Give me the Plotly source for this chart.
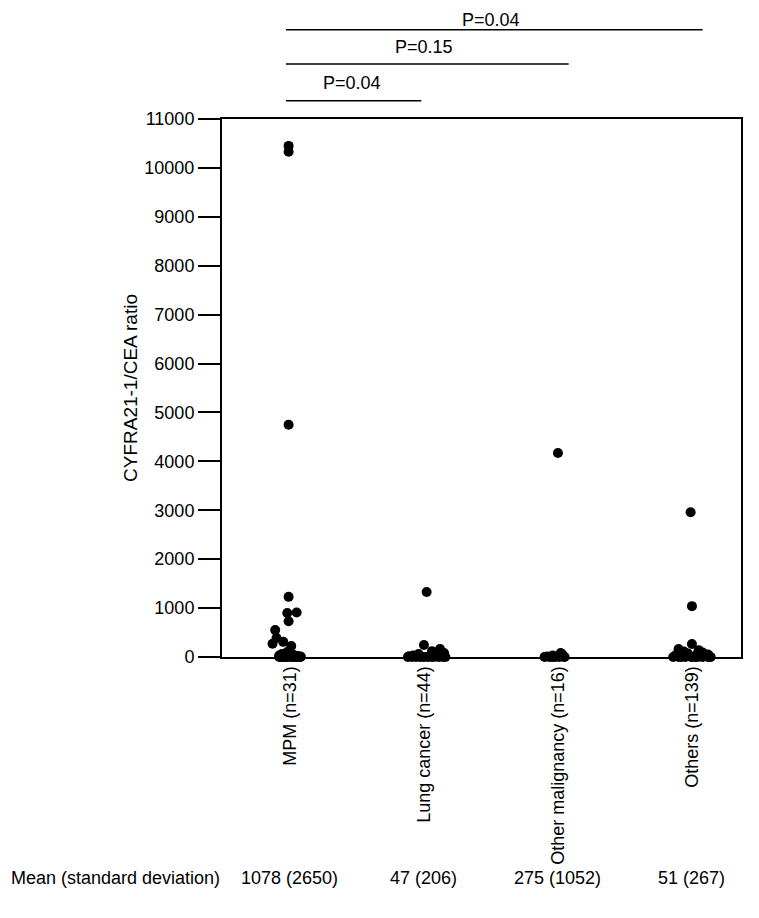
import plotly.graph_objects as go

# groups and summary text
groups = ["MPM (n=31)", "Lung cancer (n=44)", "Other malignancy (n=16)", "Others (n=139)"]
means = ["1078 (2650)", "47 (206)", "275 (1052)", "51 (267)"]

# CYFRA21-1/CEA ratio per patient, with the horizontal jitter
mpm_y = [10450, 10330, 4750, 1230, 900, 910, 730, 550, 390, 310, 270, 225, 100,
         60, 40, 30, 20, 15, 10, 5, 0, 0, 0, 0, 0, 0, 0, 0, 0, 0, 0]
mpm_dx = [-0.01, -0.01, -0.01, -0.01, -0.02, 0.05, -0.01, -0.11, -0.10, -0.05, -0.13, 0.01, -0.02,
          -0.06, 0.03, -0.08, 0.06, -0.03, 0.08, 0.00, -0.02, 0.07, -0.05, 0.04, -0.08, 0.02, 0.08, -0.03, 0.05, -0.06, 0.01]

lung_y = [1330, 245, 165, 120, 80, 60, 40, 30, 20, 15, 10, 5, 5, 0, 0, 0, 0, 0, 0, 0, 0, 0, 0]
lung_dx = [0.02, 0.00, 0.12, 0.06, 0.15, -0.04, 0.10, -0.08, 0.13, -0.11, 0.04, -0.02, 0.08, -0.12, -0.06,
           0.00, 0.06, 0.11, 0.16, -0.09, -0.03, 0.03, 0.14]

oth_mal_y = [4170, 80, 60, 30, 20, 10, 5, 0, 0, 0, 0, 0, 0]
oth_mal_dx = [0.00, 0.02, 0.03, -0.04, 0.00, -0.08, 0.04, -0.10, -0.06, -0.02, 0.01, 0.05, -0.04]

others_y = [2960, 1040, 265, 165, 140, 110, 90, 70, 50, 40, 30, 20, 15, 10, 5, 5, 0, 0, 0, 0, 0, 0, 0, 0, 0, 0]
others_dx = [-0.01, 0.00, 0.00, -0.10, 0.05, -0.06, 0.08, -0.03, 0.12, -0.12, 0.03, 0.10, -0.07, 0.06, -0.01, 0.13,
             -0.14, -0.10, -0.05, 0.00, 0.04, 0.08, 0.12, 0.14, -0.08, 0.02]

# pairwise comparisons: (from, to, P text)
pairs = [(0, 1, "P=0.04"), (0, 2, "P=0.15"), (0, 3, "P=0.04")]

font = "Liberation Sans, Arial, sans-serif"

fig = go.Figure()
for i, (ys, dxs) in enumerate([(mpm_y, mpm_dx), (lung_y, lung_dx), (oth_mal_y, oth_mal_dx), (others_y, others_dx)]):
    fig.add_trace(go.Scatter(
        x=[i + d for d in dxs],
        y=ys,
        mode="markers",
        marker=dict(color="black", size=10),
        cliponaxis=False,
        showlegend=False,
    ))

# significance bars above the plot
bar_y = [1.034, 1.102, 1.166]
for k, (a, b, p) in enumerate(pairs):
    fig.add_shape(type="line", xref="x", yref="paper",
                  x0=a - 0.03, x1=b + 0.08 if k else b - 0.02, y0=bar_y[k], y1=bar_y[k],
                  line=dict(color="black", width=1.5))

fig.add_annotation(xref="x", yref="paper", x=0.46, y=1.067, yanchor="middle", text=pairs[0][2],
                   showarrow=False, font=dict(size=18, color="black", family=font))
fig.add_annotation(xref="x", yref="paper", x=1.0, y=1.134, yanchor="middle", text=pairs[1][2],
                   showarrow=False, font=dict(size=18, color="black", family=font))
fig.add_annotation(xref="x", yref="paper", x=1.5, y=1.205, yanchor="top", text=pairs[2][2],
                   showarrow=False, borderpad=0, font=dict(size=18, color="black", family=font))

# mean (sd) row
fig.add_annotation(xref="paper", yref="paper", x=-0.411, y=-0.411, xanchor="left", yanchor="middle",
                   text="Mean (standard deviation)", showarrow=False,
                   font=dict(size=18, color="black", family=font))
for i, m in enumerate(means):
    fig.add_annotation(xref="x", yref="paper", x=i, y=-0.411, yanchor="middle", text=m, showarrow=False,
                       font=dict(size=18, color="black", family=font))

fig.update_layout(
    width=759, height=918,
    margin=dict(l=214, r=26, t=111, b=269),
    plot_bgcolor="white", paper_bgcolor="white",
    font=dict(family=font, size=18, color="black"),
)
fig.update_xaxes(
    range=[-0.507, 3.366],
    tickvals=[0, 1, 2, 3], ticktext=groups, tickangle=-90,
    showgrid=False, zeroline=False,
    showline=True, linecolor="black", linewidth=2, mirror=True,
    ticks="", tickfont=dict(size=18),
)
fig.update_yaxes(
    range=[0, 11000], tickvals=list(range(0, 11001, 1000)), tickformat="d",
    showgrid=False, zeroline=False,
    showline=True, linecolor="black", linewidth=2, mirror=True,
    ticks="outside", ticklen=22, tickwidth=2, tickcolor="black",
    tickfont=dict(size=18),
    title=dict(text="CYFRA21-1/CEA ratio", font=dict(size=19), standoff=2),
)

fig.write_html("out.html")
